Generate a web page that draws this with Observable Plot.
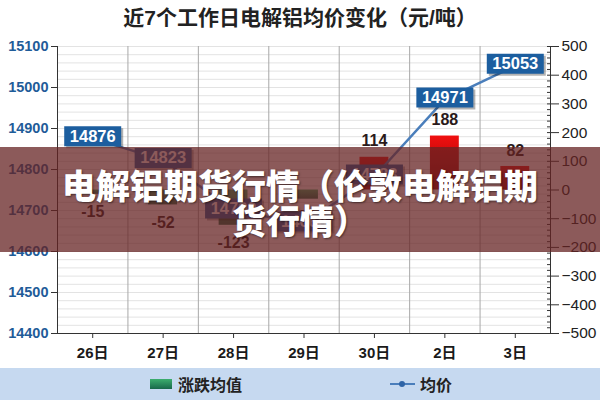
<!DOCTYPE html>
<html><head><meta charset="utf-8">
<script src="https://cdn.jsdelivr.net/npm/d3@7"></script>
<script src="https://cdn.jsdelivr.net/npm/@observablehq/plot@0.6"></script>
<style>
body{margin:0;background:#fff;font-family:"Liberation Sans",Arial,"Noto Sans CJK SC",sans-serif;}
#wrap{position:relative;width:600px;height:400px;overflow:hidden;background:#fff;}
#title{height:35px;line-height:36px;text-align:center;font-size:21px;font-weight:bold;color:#222;font-family:"Liberation Sans","Noto Sans CJK SC",sans-serif;}
#chart{position:absolute;left:0;top:35px;}
#legend{position:absolute;left:0;top:368px;width:600px;height:32px;background:#c6d9f0;font-family:"Noto Sans CJK SC",sans-serif;font-size:16px;font-weight:bold;color:#222;}
#legend .sw{position:absolute;left:150px;top:11px;width:22px;height:10px;background:linear-gradient(#3cae6e,#17684a);}
#legend .t1{position:absolute;left:178px;top:4px;line-height:24px;}
#legend .ln{position:absolute;left:390px;top:15px;width:25px;height:2px;background:#4a7ebb;}
#legend .dt{position:absolute;left:399px;top:13px;width:6px;height:6px;border-radius:3px;background:#2f64a6;}
#legend .t2{position:absolute;left:420px;top:4px;line-height:24px;}
#banner{position:absolute;left:0;top:147px;width:600px;height:105px;background:rgba(101,35,35,0.75);display:flex;align-items:center;justify-content:center;}
#banner div{width:490px;text-align:center;color:#fff;font-size:34px;font-weight:900;line-height:35px;font-family:"Noto Sans CJK SC",sans-serif;text-shadow:1px 1px 2px rgba(0,0,0,0.5);padding-top:4px;}
</style></head>
<body>
<div id="wrap">
  <div id="title">近7个工作日电解铝均价变化（元/吨）</div>
  <div id="chart"></div>
  <div id="legend"><span class="sw"></span><span class="t1">涨跌均值</span><span class="ln"></span><span class="dt"></span><span class="t2">均价</span></div>
  <div id="banner"><div>电解铝期货行情（伦敦电解铝期货行情）</div></div>
</div>
<script>
const categories = ["26日","27日","28日","29日","30日","2日","3日"];
const avgPrice = [14876, 14823, 14700, 14668, 14783, 14971, 15053];
const change = [-15, -52, -123, -32, 114, 188, 82];
const leftTicks = [14400, 14500, 14600, 14700, 14800, 14900, 15000, 15100];
const rightTicks = [-500, -400, -300, -200, -100, 0, 100, 200, 300, 400, 500];

const toLeft = v => 14750 + v * 0.7;
const fromLeft = d => Math.round((d - 14750) / 0.7);
const fmtR = v => v < 0 ? "\u2212" + (-v) : String(v);
const rows = categories.map((c, i) => ({i, c, price: avgPrice[i], chg: change[i]}));
const gridTicks = d3.range(leftTicks[0], leftTicks[leftTicks.length - 1] + 1, 20);
const minorRight = d3.range(rightTicks[0], rightTicks[rightTicks.length - 1] + 1, 20).map(toLeft);
const boxSym = {draw(ctx) { ctx.rect(-28.5, -10, 57, 20); }};

const defs = () => {
  const d = d3.create("svg:defs");
  const r = d.append("linearGradient").attr("id", "gRed").attr("x1", 0).attr("x2", 0).attr("y1", 0).attr("y2", 1);
  r.append("stop").attr("offset", "0%").attr("stop-color", "#f01010");
  r.append("stop").attr("offset", "100%").attr("stop-color", "#9a0000");
  const g = d.append("linearGradient").attr("id", "gGreen").attr("x1", 0).attr("x2", 0).attr("y1", 0).attr("y2", 1);
  g.append("stop").attr("offset", "0%").attr("stop-color", "#3cae6e");
  g.append("stop").attr("offset", "100%").attr("stop-color", "#17684a");
  return d.node();
};

const chart = Plot.plot({
  width: 600, height: 330,
  marginLeft: 57, marginRight: 50, marginTop: 11, marginBottom: 32,
  x: {domain: [-0.5, 6.5], axis: null},
  y: {domain: [leftTicks[0], leftTicks[leftTicks.length - 1]], axis: null},
  style: {fontFamily: "'Liberation Sans', Arial, 'Noto Sans CJK SC', sans-serif", overflow: "visible", background: "transparent"},
  marks: [
    defs,
    Plot.gridY(gridTicks, {stroke: "#e3e3e3", strokeOpacity: 1}),
    Plot.ruleX(d3.range(0.5, 6, 1), {stroke: "#a8a8a8"}),
    Plot.rectY(rows.filter(d => d.chg >= 0), {x1: d => d.i - 0.205, x2: d => d.i + 0.205, y1: toLeft(0), y2: d => toLeft(d.chg), fill: "url(#gRed)"}),
    Plot.rectY(rows.filter(d => d.chg < 0), {x1: d => d.i - 0.205, x2: d => d.i + 0.205, y1: toLeft(0), y2: d => toLeft(d.chg), fill: "url(#gGreen)"}),
    Plot.line(rows, {x: "i", y: "price", stroke: "#4a7ebb", strokeWidth: 2.5}),
    Plot.dot(rows, {x: "i", y: "price", r: 3, fill: "#2f64a6"}),
    Plot.text(rows.filter(d => d.chg >= 0), {x: "i", y: d => toLeft(d.chg), text: d => String(d.chg), dy: -16, fontSize: 16, fontWeight: "bold", fill: "#2a1a1a"}),
    Plot.text(rows.filter(d => d.chg < 0), {x: "i", y: d => toLeft(d.chg), text: d => String(d.chg), dy: 18, fontSize: 16, fontWeight: "bold", fill: "#2a1a1a"}),
    Plot.dot(rows, {x: "i", y: "price", symbol: boxSym, fill: "rgba(0,0,0,0.3)", stroke: "none", dx: 2, dy: 0}),
    Plot.dot(rows, {x: "i", y: "price", symbol: boxSym, fill: "#1c5e9f", stroke: "none", dy: -2}),
    Plot.text(rows, {x: "i", y: "price", text: d => String(d.price), dy: -2, fill: "#fff", fontSize: 16.5, fontWeight: "bold"}),
    Plot.ruleX([-0.5, 6.5], {stroke: "#333"}),
    Plot.ruleY([leftTicks[0]], {stroke: "#333"}),
    Plot.axisY(leftTicks, {anchor: "left", tickSize: 6, tickPadding: 3, fontSize: 14.5, fontWeight: "bold", fill: "#1f5c99", stroke: "#333", label: null, tickFormat: d => String(d)}),
    Plot.axisY(minorRight, {anchor: "right", tickSize: 4, dx: -4, stroke: "#333", tickFormat: () => "", label: null}),
    Plot.axisY(rightTicks.map(toLeft), {anchor: "right", tickSize: 8, tickPadding: 3, fontSize: 15.5, fill: "#222", stroke: "#333", label: null, tickFormat: d => fmtR(fromLeft(d))}),
    Plot.axisX(rows.map(d => d.i), {tickSize: 5, tickPadding: 9, fontSize: 15, fontWeight: "bold", fill: "#1a1a1a", stroke: "#333", label: null, tickFormat: i => categories[i]})
  ]
});
document.getElementById("chart").appendChild(chart);
</script>
</body></html>
